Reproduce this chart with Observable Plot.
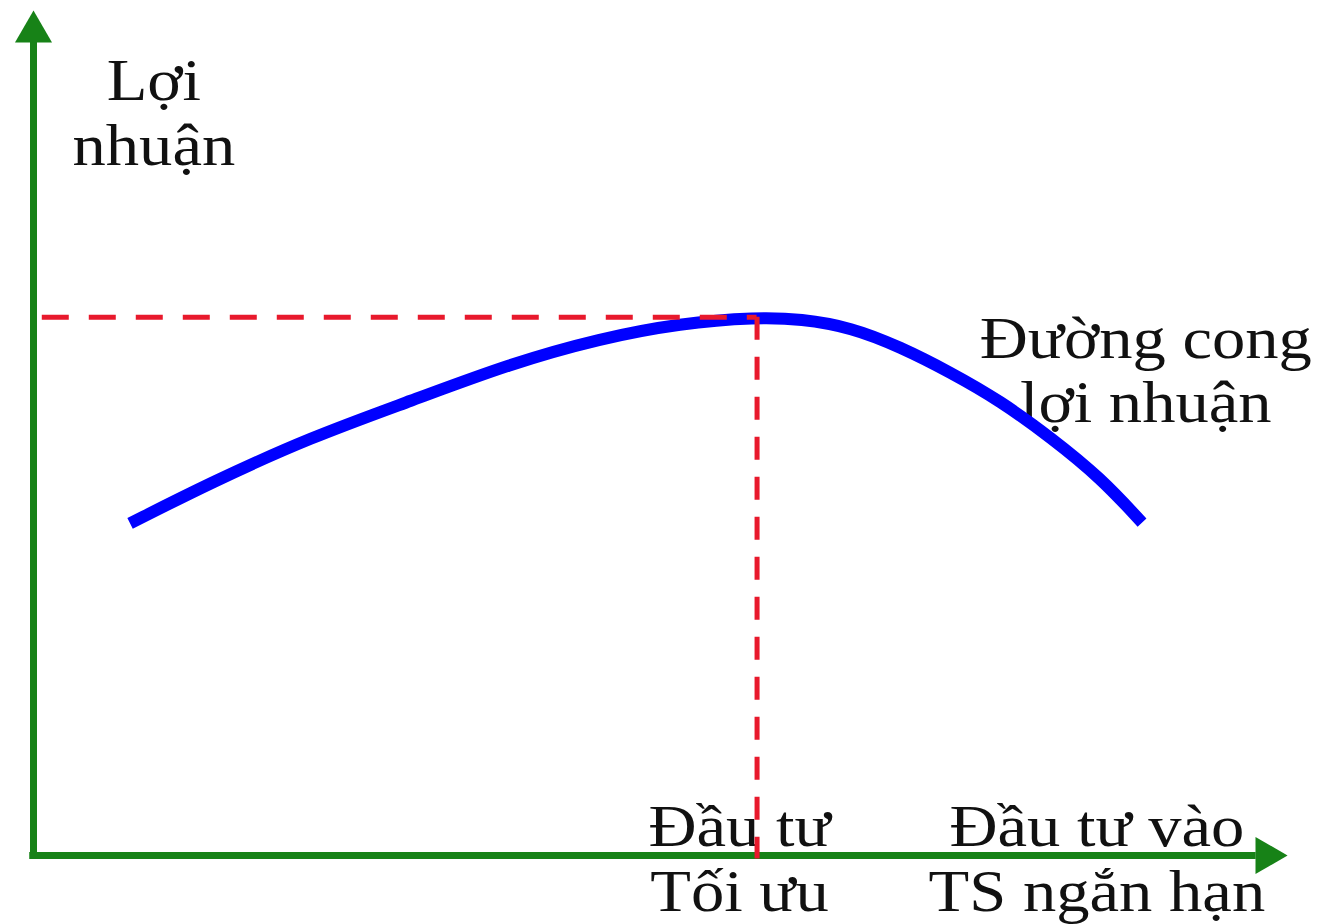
<!DOCTYPE html>
<html><head><meta charset="utf-8">
<script src="https://cdn.jsdelivr.net/npm/d3@7"></script>
<script src="https://cdn.jsdelivr.net/npm/@observablehq/plot@0.6"></script>
<style>body{margin:0;background:#fff}</style>
</head><body><div id="chart"></div>
<script>
// Data (abstract units: investment in short-term assets vs. profit)
const investment = [7.7, 14.1, 22.1, 30.1, 38.0, 45.2, 51.6, 57.7, 61.2, 65.2, 69.1, 73.1, 77.1, 81.1, 85.1, 88.4];
const profit     = [39.3, 44.1, 49.5, 53.8, 58.2, 61.2, 63.0, 63.7, 63.5, 62.5, 60.2, 57.2, 53.8, 49.5, 44.7, 39.4];
const yAxisLabel = "Lợi\nnhuận";
const curveLabel = "Đường cong\nlợi nhuận";
const optimumLabel = "Đầu tư\nTối ưu";
const xAxisLabel = "Đầu tư vào\nTS ngắn hạn";

const curve = investment.map((x, i) => ({x, y: profit[i]}));
const peak = curve[d3.maxIndex(profit)];

const green = "#178217", blue = "#0000ff", red = "#e8192c";
const font = "'Liberation Serif', 'Times New Roman', serif";
const textOpts = {fontSize: 60, fontFamily: font, lineHeight: 1.07, textAnchor: "middle", lineAnchor: "middle", fill: "#111"};

const chart = Plot.plot({
  width: 1318, height: 924,
  marginLeft: 33, marginRight: 31, marginTop: 10, marginBottom: 69,
  x: {domain: [0, 100], axis: null},
  y: {domain: [0, 100], axis: null},
  style: {background: "#fff"},
  marks: [
    Plot.text([yAxisLabel], {...textOpts, x: 9.6, y: 88.0, text: d => d}),
    Plot.text([curveLabel], {...textOpts, x: 88.7, y: 57.5, text: d => d}),
    Plot.text([optimumLabel], {...textOpts, x: 56.3, y: -0.3, text: d => d}),
    Plot.text([xAxisLabel], {...textOpts, x: 84.8, y: -0.3, text: d => d}),
    Plot.ruleX([0], {y1: -0.4, y2: 96.5, stroke: green, strokeWidth: 7}),
    Plot.ruleY([0], {x1: -0.3, x2: 97.5, stroke: green, strokeWidth: 7}),
    Plot.dot([0], {x: 0, y: 100, dy: 21.3, symbol: "triangle", r: 13.75, fill: green, stroke: "none"}),
    Plot.dot([0], {x: 100, y: 0, dx: -21.3, rotate: 90, symbol: "triangle", r: 13.75, fill: green, stroke: "none"}),
    Plot.line(curve, {x: "x", y: "y", curve: "basis", stroke: blue, strokeWidth: 12, strokeLinecap: "butt"}),
    Plot.ruleY([peak], {y: "y", x1: 0.7, x2: "x", stroke: red, strokeWidth: 5, strokeDasharray: "27,20"}),
    Plot.ruleX([peak], {x: "x", y1: "y", y2: -0.4, stroke: red, strokeWidth: 5, strokeDasharray: "23,17"})
  ]
});
// the reference lettering is slightly wider than the font: stretch horizontally around each anchor
d3.select(chart).selectAll("text").each(function () {
  const t = this.getAttribute("transform");
  if (t) this.setAttribute("transform", t + " scale(1.11,1)");
});
document.getElementById("chart").appendChild(chart);
</script>
</body></html>
